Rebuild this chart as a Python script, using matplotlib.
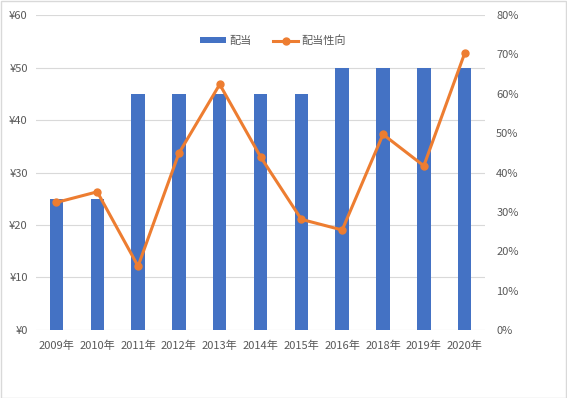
import matplotlib
matplotlib.use("Agg")
import matplotlib.pyplot as plt
from matplotlib.ticker import FuncFormatter
import numpy as np

plt.rcParams['font.family'] = ['Noto Sans CJK JP', 'DejaVu Sans']

years = ["2009年", "2010年", "2011年", "2012年", "2013年", "2014年", "2015年", "2016年", "2018年", "2019年", "2020年"]
dividend = [25, 25, 45, 45, 45, 45, 45, 50, 50, 50, 50]
payout = [32.4, 35.1, 16.2, 44.9, 62.4, 44.0, 28.1, 25.4, 49.7, 41.7, 70.3]

blue = "#4472C4"
orange = "#ED7D31"
tc = "#595959"

fig = plt.figure(figsize=(5.67, 3.98), dpi=100)
fig.patches.append(plt.Rectangle((0.001, 0.001), 0.997, 0.997, transform=fig.transFigure,
                                 fill=False, edgecolor="#D9D9D9", lw=1))
ax = fig.add_axes([0.0635, 0.171, 0.792, 0.791])
x = np.arange(len(years))
ax.bar(x, dividend, width=0.33, color=blue, label="配当", zorder=2)
ax.set_ylim(0, 60)
ax.set_xlim(-0.5, len(years) - 0.5)
ax.set_yticks(range(0, 61, 10))
ax.yaxis.set_major_formatter(FuncFormatter(lambda v, p: f"¥{int(v)}"))
ax.grid(axis='y', color="#D9D9D9", lw=0.8, zorder=0)
ax.set_axisbelow(True)
ax.set_xticks(x)
ax.set_xticklabels(years)
for s in ax.spines.values():
    s.set_visible(False)
ax.tick_params(length=0, labelsize=8, colors=tc, pad=6)
ax.tick_params(axis='x', pad=8)

ax2 = ax.twinx()
ax2.plot(x, payout, color=orange, lw=2.2, marker='o', markersize=5, label="配当性向", zorder=3)
ax2.set_ylim(0, 80)
ax2.set_yticks(range(0, 81, 10))
ax2.yaxis.set_major_formatter(FuncFormatter(lambda v, p: f"{int(v)}%"))
for s in ax2.spines.values():
    s.set_visible(False)
ax2.tick_params(length=0, labelsize=8, colors=tc, pad=8)

h1, l1 = ax.get_legend_handles_labels()
h2, l2 = ax2.get_legend_handles_labels()
leg = fig.legend(h1 + h2, l1 + l2, loc='center', bbox_to_anchor=(0.482, 0.898), ncol=2,
                 frameon=False, fontsize=8, labelcolor=tc, handlelength=2.3,
                 handleheight=0.45, columnspacing=1.9, handletextpad=0.3)

fig.savefig("out.png", dpi=100)
